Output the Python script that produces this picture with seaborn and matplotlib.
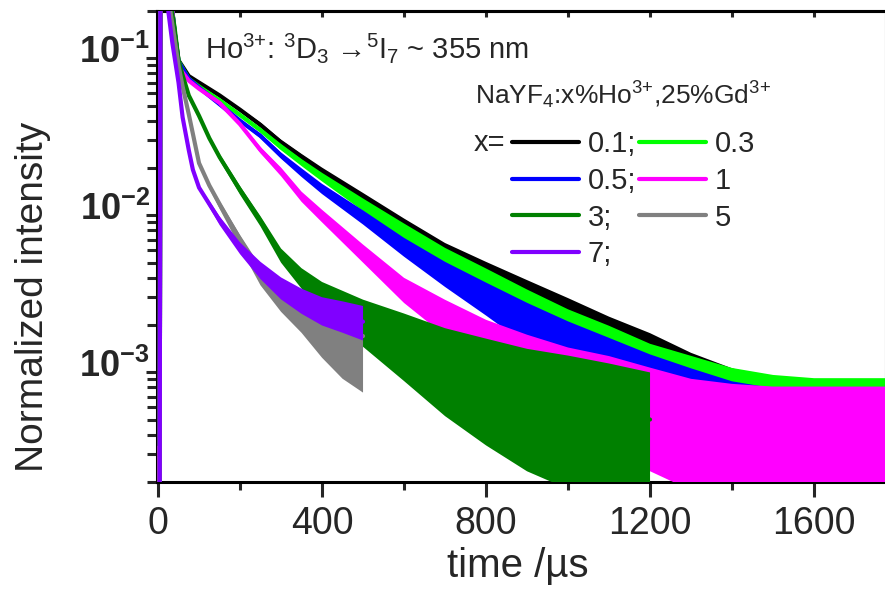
import numpy as np
import pandas as pd
import matplotlib
matplotlib.use("Agg")
import matplotlib.pyplot as plt
import matplotlib.transforms as mtransforms
import seaborn as sns
from matplotlib.ticker import FixedLocator, LogLocator, NullFormatter, FuncFormatter, MultipleLocator
from matplotlib.lines import Line2D

# ---------------- data ----------------
# time grid (µs) for the long-lived samples (0.1, 0.3, 0.5, 1 %)
t_long = [0, 4, 6, 12, 20, 30, 35, 40, 50, 75, 100, 150, 200, 250, 300, 350, 400,
          500, 600, 700, 800, 900, 1000, 1100, 1200, 1300, 1400, 1500, 1600, 1700, 1780]

i_01 = [1e-4, 1e-4, 1.0, 1.0, 0.6, 0.27, 0.2, 0.15, 0.097, 0.077, 0.070, 0.058, 0.047, 0.0376,
        0.029, 0.0235, 0.0190, 0.0128, 0.0085, 0.0058, 0.0042, 0.0030, 0.0022, 0.0016, 0.0012,
        0.00092, 0.00075, 0.00065, 0.0006, 0.0006, 0.0006]
up_01 = [0, 0, 0, 0, 0, 0, 0, 0, 0, 0, 0, 0, 0.01, 0.015, 0.02, 0.02, 0.025, 0.035, 0.05, 0.06,
         0.08, 0.11, 0.13, 0.15, 0.17, 0.16, 0.15, 0.15, 0.15, 0.15, 0.15]
dn_01 = [0, 0, 0, 0, 0, 0, 0, 0, 0, 0, 0, 0, 0.01, 0.015, 0.02, 0.025, 0.03, 0.045, 0.07, 0.09,
         0.11, 0.14, 0.18, 0.22, 0.28, 0.35, 0.4, 0.45, 0.45, 0.45, 0.45]

i_03 = [1e-4, 1e-4, 1.0, 1.0, 0.6, 0.27, 0.2, 0.15, 0.096, 0.074, 0.066, 0.054, 0.0435, 0.0348,
        0.0272, 0.0218, 0.0176, 0.0118, 0.0079, 0.0054, 0.0039, 0.0028, 0.0020, 0.0015, 0.0011,
        0.00088, 0.00072, 0.00065, 0.00062, 0.00062, 0.00062]
up_03 = [0, 0, 0, 0, 0, 0, 0, 0, 0, 0, 0, 0, 0.01, 0.015, 0.02, 0.02, 0.025, 0.035, 0.05, 0.06,
         0.07, 0.08, 0.1, 0.12, 0.14, 0.16, 0.17, 0.17, 0.17, 0.17, 0.17]
dn_03 = [0, 0, 0, 0, 0, 0, 0, 0, 0, 0, 0, 0, 0.01, 0.015, 0.02, 0.025, 0.03, 0.045, 0.07, 0.09,
         0.12, 0.15, 0.19, 0.24, 0.3, 0.36, 0.42, 0.45, 0.45, 0.45, 0.45]

i_05 = [1e-4, 1e-4, 1.0, 1.0, 0.6, 0.27, 0.2, 0.15, 0.095, 0.074, 0.065, 0.051, 0.040, 0.032,
        0.024, 0.0188, 0.0148, 0.0098, 0.0064, 0.0044, 0.0031, 0.0022, 0.0016, 0.0012, 0.00092,
        0.00075, 0.00062, 0.00056, 0.00055, 0.00055, 0.00055]
up_05 = [0, 0, 0, 0, 0, 0, 0, 0, 0, 0, 0, 0, 0.01, 0.015, 0.02, 0.025, 0.03, 0.04, 0.05, 0.06,
         0.08, 0.1, 0.12, 0.14, 0.15, 0.15, 0.15, 0.15, 0.15, 0.15, 0.15]
dn_05 = [0, 0, 0, 0, 0, 0, 0, 0, 0, 0, 0, 0, 0.01, 0.015, 0.02, 0.03, 0.035, 0.05, 0.07, 0.1,
         0.13, 0.17, 0.22, 0.28, 0.33, 0.38, 0.42, 0.45, 0.45, 0.45, 0.45]

i_1 = [3.3e-4, 1e-4, 1.0, 1.0, 0.6, 0.27, 0.2, 0.14, 0.088, 0.072, 0.064, 0.052, 0.038, 0.026,
       0.019, 0.0132, 0.0100, 0.0058, 0.0034, 0.0023, 0.0016, 0.0012, 0.00095, 0.0008, 0.00066,
       0.00056, 0.00052, 0.0005, 0.0005, 0.0005, 0.0005]
up_1 = [0, 0, 0, 0, 0, 0, 0, 0, 0, 0, 0, 0, 0.01, 0.02, 0.025, 0.03, 0.035, 0.05, 0.07, 0.1,
        0.13, 0.16, 0.18, 0.2, 0.21, 0.21, 0.21, 0.21, 0.21, 0.21, 0.21]
dn_1 = [0, 0, 0, 0, 0, 0, 0, 0, 0, 0, 0, 0, 0.01, 0.02, 0.03, 0.035, 0.045, 0.065, 0.09, 0.13,
        0.18, 0.24, 0.3, 0.36, 0.45, 0.5, 0.5, 0.5, 0.5, 0.5, 0.5]

# 3 % sample (ends at 1200 µs)
t_3 = [0, 4, 6, 12, 20, 30, 35, 40, 50, 60, 75, 100, 125, 150, 200, 250, 300, 350, 400,
       500, 600, 700, 800, 900, 1000, 1100, 1200]
i_3 = [1e-4, 1e-4, 1.0, 1.0, 0.55, 0.25, 0.19, 0.16, 0.097, 0.078, 0.058, 0.043, 0.031, 0.0235,
       0.0145, 0.0092, 0.0056, 0.0041, 0.0032, 0.0022, 0.0016, 0.00115, 0.0009, 0.00074,
       0.00064, 0.00057, 0.0005]
up_3 = [0, 0, 0, 0, 0, 0, 0, 0, 0, 0, 0, 0.01, 0.015, 0.02, 0.025, 0.03, 0.04, 0.05, 0.07,
        0.12, 0.17, 0.22, 0.26, 0.28, 0.3, 0.3, 0.3]
dn_3 = [0, 0, 0, 0, 0, 0, 0, 0, 0, 0, 0, 0.01, 0.015, 0.02, 0.03, 0.035, 0.05, 0.08, 0.12,
        0.18, 0.26, 0.34, 0.42, 0.5, 0.55, 0.6, 0.6]

# 5 % sample (ends at 500 µs)
t_5 = [0, 4, 6, 12, 20, 30, 40, 50, 60, 75, 100, 125, 150, 200, 250, 300, 350, 400, 450, 500]
i_5 = [1e-4, 1e-4, 1.0, 1.0, 0.45, 0.2, 0.135, 0.09, 0.066, 0.044, 0.0215, 0.0155, 0.0118,
       0.0070, 0.0043, 0.0032, 0.0027, 0.0022, 0.0019, 0.0017]
up_5 = [0, 0, 0, 0, 0, 0, 0, 0, 0, 0, 0.01, 0.015, 0.02, 0.03, 0.04, 0.06, 0.07, 0.08, 0.09, 0.1]
dn_5 = [0, 0, 0, 0, 0, 0, 0, 0, 0, 0, 0.015, 0.02, 0.03, 0.05, 0.08, 0.12, 0.18, 0.25, 0.32, 0.36]

# 7 % sample (ends at 500 µs)
t_7 = [0, 4, 6, 12, 18, 25, 35, 50, 60, 75, 85, 100, 125, 150, 200, 250, 300, 350, 400, 450, 500]
i_7 = [1e-4, 1e-4, 1.0, 1.0, 0.35, 0.2, 0.125, 0.070, 0.042, 0.026, 0.0195, 0.0150, 0.0118,
       0.0093, 0.0062, 0.0045, 0.0035, 0.0029, 0.0025, 0.0023, 0.0021]
up_7 = [0, 0, 0, 0, 0, 0, 0, 0, 0, 0, 0, 0.01, 0.02, 0.025, 0.035, 0.05, 0.06, 0.07, 0.08, 0.09, 0.1]
dn_7 = [0, 0, 0, 0, 0, 0, 0, 0, 0, 0, 0, 0.01, 0.02, 0.03, 0.04, 0.06, 0.08, 0.09, 0.1, 0.11, 0.12]

labels = ["0.1;", "0.3", "0.5;", "1", "3;", "5", "7;"]
colors = ["#000000", "#00FF00", "#0000FF", "#FF00FF", "#008000", "#808080", "#8000FF"]

x_ticks = [0, 400, 800, 1200, 1600]
y_ticks = [1e-3, 1e-2, 1e-1]
y_ticklabels = [r"$\mathbf{10^{-3}}$", r"$\mathbf{10^{-2}}$", r"$\mathbf{10^{-1}}$"]

series = [
    (t_long, i_01, up_01, dn_01),
    (t_long, i_03, up_03, dn_03),
    (t_long, i_05, up_05, dn_05),
    (t_long, i_1, up_1, dn_1),
    (t_3, i_3, up_3, dn_3),
    (t_5, i_5, up_5, dn_5),
    (t_7, i_7, up_7, dn_7),
]

# ---------------- style ----------------
sns.set_style("ticks")
plt.rcParams['font.family'] = ['Liberation Sans', 'DejaVu Sans']
plt.rcParams.update({
    'mathtext.fontset': 'custom',
    'mathtext.rm': 'Liberation Sans',
    'mathtext.it': 'Liberation Sans:italic',
    'mathtext.bf': 'Liberation Sans:bold',
    'mathtext.default': 'regular',
    'axes.linewidth': 2.2,
})

fig = plt.figure(figsize=(8.85, 5.93), dpi=100)
ax = fig.add_axes([156.8 / 885, 1 - 482 / 593, 729 / 885, 471 / 593])

for k, (t, c, up, dn) in enumerate(series):
    c_arr = np.array(c)
    hi = c_arr * 10 ** np.array(up)
    lo = c_arr / 10 ** np.array(dn)
    z = 2 + k
    ax.fill_between(t, lo, hi, color=colors[k], lw=0, zorder=z)
    df = pd.DataFrame({"t": t, "I": c})
    sns.lineplot(data=df, x="t", y="I", color=colors[k], lw=3, ax=ax,
                 estimator=None, legend=False, zorder=z + 0.5)

ax.set_yscale('log')
ax.set_xlim(-3, 1775)
ax.set_ylim(2e-4, 0.2)
ax.set_xlabel("")
ax.set_ylabel("")

for s in ax.spines.values():
    s.set_linewidth(2.2)
    s.set_color("black")

ax.xaxis.set_major_locator(FixedLocator(x_ticks))
ax.xaxis.set_minor_locator(MultipleLocator(200))
ax.yaxis.set_major_locator(FixedLocator(y_ticks))
ax.yaxis.set_major_formatter(FuncFormatter(lambda v, p: y_ticklabels[y_ticks.index(v)] if v in y_ticks else ""))
ax.yaxis.set_minor_locator(LogLocator(base=10, subs=np.arange(2, 10), numticks=20))
ax.yaxis.set_minor_formatter(NullFormatter())

ax.tick_params(axis='x', which='major', direction='out', length=11, width=2.2,
               labelsize=27, pad=6, top=False)
ax.tick_params(axis='x', which='minor', direction='out', length=6, width=2.2, top=False)
ax.tick_params(axis='y', which='major', direction='out', length=8, width=2.2,
               labelsize=26, pad=-3, right=False)
ax.tick_params(axis='y', which='minor', direction='out', length=7, width=2.2, right=False)

# shift y tick labels upward (digits sit above the tick in the reference)
offset = mtransforms.ScaledTranslation(0, 9 / 100, fig.dpi_scale_trans)
for tk in ax.yaxis.get_major_ticks():
    tk.label1.set_transform(tk.label1.get_transform() + offset)

sec = ax.secondary_xaxis('top')
sec.xaxis.set_major_locator(FixedLocator(x_ticks))
sec.xaxis.set_minor_locator(MultipleLocator(200))
sec.tick_params(which='both', direction='in', length=4, width=2.2, labeltop=False)
sec.spines['top'].set_linewidth(2.2)

# texts
fig.text(205 / 885, 1 - 48 / 593, r"Ho$^{3{+}}$: $^{3}$D$_{3}$ →$^{5}$I$_{7}$ ~ 355 nm",
         fontsize=21, ha='left', va='center')
fig.text(475 / 885, 1 - 95 / 593, r"NaYF$_{4}$:x%Ho$^{3{+}}$,25%Gd$^{3{+}}$",
         fontsize=19, ha='left', va='center')
fig.text(474 / 885, 1 - 143 / 593, "x=", fontsize=21, ha='left', va='center')

order = [0, 2, 4, 6, 1, 3, 5]
handles = [Line2D([], [], color=colors[i], lw=3) for i in order]
leg = ax.legend(handles, [labels[i] for i in order], ncol=2, loc='upper left',
                bbox_to_anchor=(512 / 885, 1 - 130 / 593), bbox_transform=fig.transFigure,
                frameon=False, fontsize=21, handlelength=2.3, handletextpad=0.3,
                columnspacing=0.1, labelspacing=0.3, borderpad=0, borderaxespad=0)
leg.set_zorder(20)

fig.text(518 / 885, 1 - 566 / 593, "time /µs", fontsize=29, ha='center', va='center')
fig.text(33 / 885, 1 - 297 / 593, "Normalized intensity", fontsize=28, rotation=90,
         ha='center', va='center')

fig.savefig("out.png", dpi=100)
